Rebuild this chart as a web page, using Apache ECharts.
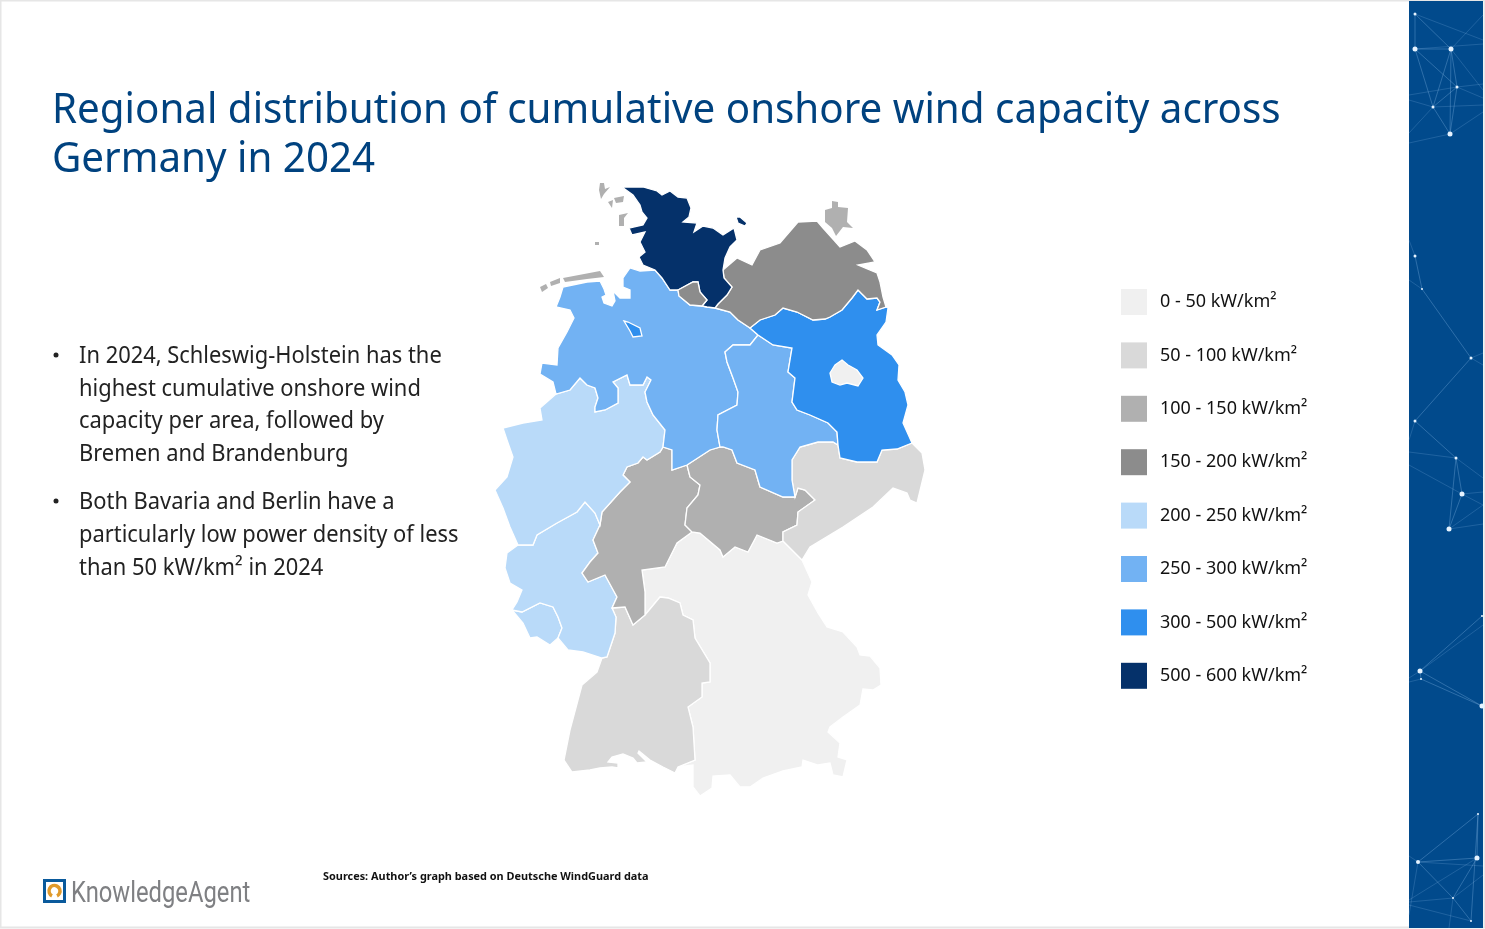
<!DOCTYPE html>
<html>
<head>
<meta charset="utf-8">
<title>Regional distribution of cumulative onshore wind capacity</title>
<script src="https://cdn.jsdelivr.net/npm/echarts@6/dist/echarts.min.js"></script>
<style>
html, body { margin: 0; padding: 0; background: #fff; }
#main { width: 1485px; height: 929px; }
</style>
</head>
<body>
<div id="main"></div>
<script>
var classLabels = ['0 - 50 kW/km²', '50 - 100 kW/km²', '100 - 150 kW/km²', '150 - 200 kW/km²',
    '200 - 250 kW/km²', '250 - 300 kW/km²', '300 - 500 kW/km²', '500 - 600 kW/km²'];
var classMin = [0, 50, 100, 150, 200, 250, 300, 500];
var classMax = [50, 100, 150, 200, 250, 300, 500, 600];
var classColors = ['#f0f0f0', '#d9d9d9', '#b0b0b0', '#8c8c8c', '#b9daf9', '#72b2f3', '#2f8fee', '#05316a'];

var stateNames = ['Bayern', 'Baden-Württemberg', 'Saarland', 'Rheinland-Pfalz', 'Hessen', 'Thüringen', 'Sachsen',
    'Nordrhein-Westfalen', 'Niedersachsen', 'Sachsen-Anhalt', 'Brandenburg', 'Mecklenburg-Vorpommern',
    'Schleswig-Holstein', 'Hamburg', 'Bremen', 'Berlin', 'Rügen', 'Inseln'];
var stateValues = [25, 75, 225, 225, 125, 125, 75, 225, 275, 275, 350, 175, 550, 175, 350, 25, 125, 125];

// shared borders
var bShMv = [[723,270],[724,278],[732,287],[727,295],[718,304],[715,308]];
var bShNi = [[715,308],[707,307],[702,306]];
var bHhSh = [[702,306],[707,300],[700,292],[698,282],[693,282],[678,290]];
var bHhNi = [[702,306],[690,305],[679,296],[678,290]];
var bMvNi = [[715,308],[730,312],[738,320],[750,328]];
var bMvBb = [[750,328],[760,320],[775,315],[783,308],[797,312],[813,320],[825,319],[830,317],[842,310],[852,298],[858,290],[867,299],[877,298],[880,302],[877,310],[886,307]];
var bNiBb = [[750,328],[758,335]];
var bNiSt = [[758,335],[750,345],[733,345],[725,352],[727,362],[733,378],[738,392],[737,405],[718,415],[717,430],[720,447]];
var bStBb = [[758,335],[773,345],[792,348],[788,372],[795,378],[792,402],[797,410],[810,415],[828,423],[837,432],[838,445]];
var bStSn = [[838,445],[833,442],[818,442],[800,447],[792,460],[792,480],[795,497]];
var bSnBb = [[838,445],[840,458],[857,462],[877,462],[882,450],[897,449],[912,443]];
var bStTh = [[795,497],[783,497],[760,487],[755,470],[737,463],[732,450],[723,447],[720,447]];
var bThNi = [[720,447],[710,450],[687,465]];
var bThSn = [[795,497],[798,488],[805,490],[815,500],[798,512],[797,525],[783,532],[783,541]];
var bThBy = [[783,541],[777,543],[757,535],[748,552],[735,547],[723,557],[720,550],[700,533],[692,532]];
var bThHe = [[687,465],[690,477],[700,485],[698,495],[687,508],[685,525],[692,532]];
var bNiHe = [[687,465],[672,470],[672,450],[663,447]];
var bNiNw = [[663,447],[665,430],[653,415],[647,402],[645,392],[651,380],[647,377],[643,385],[630,385],[627,375],[613,382],[618,388],[618,403],[605,410],[595,412],[595,407],[598,398],[595,388],[587,385],[580,378],[570,390],[556,394]];
var bHeNw = [[663,447],[660,452],[647,460],[643,457],[638,463],[627,467],[623,475],[630,482],[620,492],[602,512],[600,525]];
var bNwRp = [[600,525],[595,513],[585,502],[577,512],[557,523],[537,535],[533,545],[518,545]];
var bHeRp = [[600,525],[593,540],[598,553],[590,562],[582,573],[588,582],[605,575],[617,597],[612,608]];
var bHeBw = [[612,608],[625,607],[633,625],[645,615]];
var bHeBy = [[645,615],[645,592],[642,570],[665,567],[677,543],[692,532]];
var bRpBw = [[612,608],[616,617],[615,633],[607,657],[602,658]];
var bRpSl = [[512,610],[522,612],[540,603],[553,607],[558,617],[562,628],[558,638]];
var bBwBy = [[645,615],[660,597],[668,598],[680,603],[683,615],[693,620],[695,638],[710,663],[710,682],[702,683],[702,697],[688,707],[693,727],[695,760],[678,767]];
var bSnBy = [[783,541],[802,560]];

// outer coast and state lines that touch only one state
var cSh = [[670,290],[662,278],[655,270],[643,265],[639,257],[645,252],[640,242],[645,232],[632,235],[629,228],[643,225],[647,218],[642,212],[640,205],[633,195],[622,187],[643,187],[657,191],[662,195],[670,191],[678,197],[687,198],[691,208],[689,217],[683,222],[697,223],[694,232],[703,226],[713,228],[723,235],[734,228],[737,240],[730,247],[725,258],[723,270]];
var cFehmarn = [[736,217],[740,217],[747,223],[745,226],[738,223]];
var cMv = [[886,307],[883,297],[880,282],[877,273],[858,265],[875,262],[867,250],[855,241],[840,247],[832,238],[823,228],[817,221],[798,222],[780,243],[760,250],[752,265],[737,258],[723,270]];
var cBb = [[886,307],[888,308],[886,322],[877,335],[878,345],[892,355],[899,365],[898,380],[905,392],[908,405],[903,423],[912,443]];
var cSn = [[912,443],[922,453],[925,470],[917,503],[910,500],[907,493],[893,488],[873,507],[843,527],[810,547],[802,560]];
var cBy = [[802,560],[812,582],[808,595],[818,613],[827,627],[843,632],[857,647],[860,655],[870,656],[880,668],[881,685],[873,690],[863,689],[860,705],[843,717],[830,727],[828,732],[840,743],[838,757],[847,760],[843,777],[833,775],[830,763],[818,765],[803,760],[802,767],[783,771],[763,778],[750,787],[740,787],[730,775],[713,776],[712,788],[700,796],[693,787],[693,765],[678,767]];
var cBw = [[678,767],[675,773],[663,767],[650,760],[639,751],[638,753],[647,762],[637,763],[633,758],[623,754],[612,757],[608,762],[618,763],[618,768],[612,767],[600,768],[590,770],[572,772],[564,760],[570,730],[578,700],[582,685],[597,672],[602,658]];
var cRp = [[602,658],[583,652],[568,650],[558,638]];
var cSl = [[558,638],[550,645],[537,637],[530,638],[523,623],[512,610]];
var cRpW = [[512,610],[517,602],[522,590],[510,583],[505,568],[507,553],[518,545]];
var cNw = [[518,545],[510,527],[503,508],[495,490],[507,477],[513,457],[507,440],[503,428],[523,423],[542,420],[540,408],[556,394]];
var cNi = [[556,394],[553,382],[540,374],[542,363],[557,365],[558,348],[567,332],[574,318],[570,310],[556,307],[560,297],[563,287],[587,282],[600,281],[604,289],[606,295],[602,297],[604,303],[612,306],[615,301],[613,291],[620,298],[630,298],[630,290],[623,287],[623,278],[630,268],[640,271],[655,270],[662,278],[670,290],[678,290]];
var cBremen = [[624,321],[628,322],[640,328],[642,336],[633,337],[630,331]];
var cBerlin = [[842,360],[848,365],[857,370],[863,378],[858,386],[847,383],[840,385],[832,382],[830,373],[835,365]];
var cRuegen = [[832,201],[838,202],[838,207],[848,208],[847,222],[853,228],[843,227],[836,236],[832,228],[825,222],[825,210],[832,208]];
var cIslands = [
    [[600,183],[604,183],[605,189],[610,187],[604,194],[601,199],[599,190]],
    [[614,198],[624,196],[623,202],[616,203]],
    [[608,202],[613,200],[612,208]],
    [[619,215],[628,213],[624,218],[624,226],[619,226]],
    [[595,242],[599,242],[599,245],[595,245]],
    [[540,287],[546,284],[548,288],[542,292]],
    [[550,282],[560,278],[560,283],[551,286]],
    [[563,278],[600,271],[604,277],[587,279],[565,282]]
];

function rev(a) { return a.slice().reverse(); }
function ring() {
    var out = [];
    for (var i = 0; i < arguments.length; i++) out = out.concat(arguments[i]);
    out.push(out[0]);
    return out;
}

var outlines = {
    'Bayern': [ring(bHeBy, rev(bThBy), bSnBy, cBy, rev(bBwBy))],
    'Baden-Württemberg': [ring(bBwBy, cBw, rev(bRpBw), bHeBw)],
    'Saarland': [ring(bRpSl, cSl)],
    'Rheinland-Pfalz': [ring(bHeRp, bRpBw, cRp, rev(bRpSl), cRpW, rev(bNwRp))],
    'Hessen': [ring(bHeNw, bHeRp, bHeBw, bHeBy, rev(bThHe), bNiHe)],
    'Thüringen': [ring(bThHe, rev(bThBy), rev(bThSn), bStTh, bThNi)],
    'Sachsen': [ring(bStSn, bThSn, bSnBy, rev(cSn), rev(bSnBb))],
    'Nordrhein-Westfalen': [ring(bNiNw, rev(cNw), rev(bNwRp), rev(bHeNw))],
    'Niedersachsen': [ring(cNi, rev(bHhNi), rev(bShNi), bMvNi, bNiBb, bNiSt, bThNi, bNiHe, bNiNw)],
    'Sachsen-Anhalt': [ring(bStBb, bStSn, bStTh, rev(bNiSt))],
    'Brandenburg': [ring(bMvBb, cBb, rev(bSnBb), rev(bStBb), rev(bNiBb))],
    'Mecklenburg-Vorpommern': [ring(cMv, bShMv, bMvNi, bMvBb)],
    'Schleswig-Holstein': [ring(cSh, bShMv, bShNi, bHhSh), ring(cFehmarn)],
    'Hamburg': [ring(bHhSh, rev(bHhNi))],
    'Bremen': [ring(cBremen)],
    'Berlin': [ring(cBerlin)],
    'Rügen': [ring(cRuegen)],
    'Inseln': cIslands.map(function (p) { return ring(p); })
};

var features = stateNames.map(function (name) {
    return {
        type: 'Feature',
        properties: { name: name },
        geometry: { type: 'MultiPolygon', coordinates: outlines[name].map(function (r) { return [r]; }) }
    };
});
echarts.registerMap('germany', { type: 'FeatureCollection', features: features });

// the outlines are in picture units, so the map box is just their extent
var xs = [], ys = [];
stateNames.forEach(function (name) {
    outlines[name].forEach(function (r) {
        r.forEach(function (p) { xs.push(p[0]); ys.push(p[1]); });
    });
});
var minX = Math.min.apply(null, xs), maxX = Math.max.apply(null, xs);
var minY = Math.min.apply(null, ys), maxY = Math.max.apply(null, ys);

var textFont = '"Noto Sans", sans-serif';
var slide = [];

function addText(str, x, y, size, color, scaleX, weight, font) {
    slide.push({
        type: 'text', x: x, y: y, scaleX: scaleX, silent: true,
        style: { x: 0, y: 0, text: str, fill: color, font: (weight || 'normal') + ' ' + size + 'px ' + (font || textFont), textVerticalAlign: 'middle' }
    });
}

// frame and right band
slide.push({ type: 'rect', silent: true, shape: { x: 0.5, y: 0.5, width: 1484, height: 927 }, style: { fill: 'none', stroke: '#e6e6e6', lineWidth: 2 } });
slide.push({ type: 'rect', silent: true, shape: { x: 1409, y: 1, width: 74, height: 927 }, style: { fill: '#014a8c' } });

var netNodes = [[1415,14,1.5],[1415,49,2.5],[1451,49,2.5],[1457,87,1.5],[1433,107,1.5],[1450,134,2.5],[1415,256,1.5],[1422,289,1],
    [1471,358,1.5],[1415,421,1.5],[1456,458,1.5],[1462,494,2.5],[1449,529,2.5],[1420,671,2.5],[1421,679,1],[1482,706,2.5],[1482,616,1],
    [1478,814,1],[1477,858,2.5],[1418,862,2],[1453,898,1],[1471,921,1]];
var netLines = [[0,1],[0,2],[1,2],[1,4],[1,3],[2,3],[2,4],[2,5],[3,4],[3,5],[4,5],[6,7],[7,8],[8,9],[9,10],[10,11],[10,12],[11,12],[13,14],[13,15],[14,15],[13,16],
    [17,18],[17,19],[18,19],[19,20],[18,20],[20,21],[17,21]];
var netEdges = [[1415,14,1483,40],[1415,49,1483,44],[1451,49,1483,15],[1451,49,1483,90],[1457,87,1483,84],[1457,87,1409,95],[1457,87,1483,98],[1433,107,1409,100],[1433,107,1483,105],[1433,107,1409,133],
    [1450,134,1483,112],[1450,134,1409,143],[1415,256,1409,240],[1422,289,1409,280],[1471,358,1483,353],[1471,358,1483,365],[1415,421,1409,440],[1456,458,1409,452],[1456,458,1483,478],
    [1462,494,1483,492],[1462,494,1483,505],[1462,494,1409,465],[1449,529,1483,524],[1449,529,1483,505],[1420,671,1409,678],[1421,679,1409,682],[1420,671,1483,625],
    [1418,862,1409,856],[1418,862,1483,866],[1418,862,1409,915],[1477,858,1409,900],[1453,898,1409,902],[1453,898,1483,875],[1471,921,1409,905],[1453,898,1449,928]];

netEdges.forEach(function (l) {
    slide.push({ type: 'line', silent: true, shape: { x1: l[0], y1: l[1], x2: l[2], y2: l[3] }, style: { stroke: 'rgba(150,195,240,0.2)', lineWidth: 1 } });
});
netLines.forEach(function (l) {
    var a = netNodes[l[0]], b = netNodes[l[1]];
    slide.push({ type: 'line', silent: true, shape: { x1: a[0], y1: a[1], x2: b[0], y2: b[1] }, style: { stroke: 'rgba(150,195,240,0.3)', lineWidth: 1 } });
});
netNodes.forEach(function (n) {
    slide.push({ type: 'circle', silent: true, shape: { cx: n[0], cy: n[1], r: n[2] }, style: { fill: '#e6f3ff' } });
});

// title and bullets
addText('Regional distribution of cumulative onshore wind capacity across', 52, 111, 42, '#00427f', 0.96);
addText('Germany in 2024', 52, 160, 42, '#00427f', 0.96);

var bulletLines = ['In 2024, Schleswig-Holstein has the', 'highest cumulative onshore wind', 'capacity per area, followed by', 'Bremen and Brandenburg',
    'Both Bavaria and Berlin have a', 'particularly low power density of less', 'than 50 kW/km² in 2024'];
var bulletY = [356, 389, 421, 454, 502, 535, 568];
bulletLines.forEach(function (s, i) { addText(s, 79, bulletY[i], 23, '#222', 0.952); });
[356, 502].forEach(function (y) {
    slide.push({ type: 'circle', silent: true, shape: { cx: 56, cy: y - 1, r: 2.5 }, style: { fill: '#222' } });
});

// footer
addText('Sources: Author’s graph based on Deutsche WindGuard data', 323, 877, 11, '#111', 0.99, 'bold');
slide.push({ type: 'rect', silent: true, shape: { x: 43, y: 879, width: 23, height: 24 }, style: { fill: '#0a5a9c' } });
slide.push({ type: 'rect', silent: true, shape: { x: 46, y: 882, width: 17, height: 18 }, style: { fill: '#fff' } });
slide.push({ type: 'arc', silent: true, shape: { cx: 54.5, cy: 891, r: 5.5, startAngle: Math.PI * 0.65, endAngle: Math.PI * 0.35 }, style: { fill: 'none', stroke: '#e09a2b', lineWidth: 3.5 } });
addText('KnowledgeAgent', 71, 895, 29, '#7f8083', 0.82, 'normal', 'Roboto, sans-serif');

var myChart = echarts.init(document.getElementById('main'), null, { renderer: 'canvas' });

myChart.setOption({
    backgroundColor: '#fff',
    animation: false,
    tooltip: { show: false },
    visualMap: {
        type: 'piecewise',
        seriesIndex: 0,
        left: 1121,
        top: 289,
        padding: 0,
        align: 'left',
        orient: 'vertical',
        inverse: true,
        itemWidth: 26,
        itemHeight: 26,
        itemGap: 27.4,
        itemSymbol: 'rect',
        textGap: 13,
        hoverLink: false,
        selectedMode: false,
        textStyle: { color: '#111', fontSize: 18, fontFamily: textFont },
        pieces: classLabels.map(function (label, i) {
            return { min: classMin[i], max: classMax[i], label: label, color: classColors[i] };
        })
    },
    series: [{
        type: 'map',
        map: 'germany',
        projection: {
            project: function (p) { return p; },
            unproject: function (p) { return p; }
        },
        left: minX,
        top: minY,
        width: maxX - minX,
        height: maxY - minY,
        roam: false,
        silent: true,
        label: { show: false },
        emphasis: { disabled: true },
        select: { disabled: true },
        itemStyle: { borderColor: '#fff', borderWidth: 1.3 },
        data: stateNames.map(function (name, i) {
            var item = { name: name, value: stateValues[i] };
            if (name === 'Inseln' || name === 'Rügen') item.itemStyle = { borderWidth: 0 };
            return item;
        })
    }],
    graphic: { elements: slide }
});
</script>
</body>
</html>
